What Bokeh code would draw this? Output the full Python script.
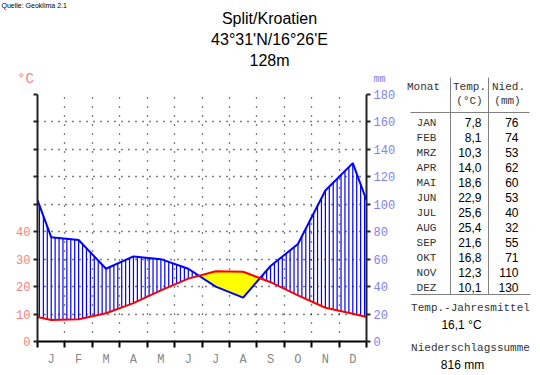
import numpy as np
from bokeh.plotting import figure
from bokeh.layouts import row, column
from bokeh.models import Range1d, LinearAxis, FixedTicker, Grid
from bokeh.core.properties import value
from bokeh.embed import file_html
from bokeh.resources import INLINE

# ---------------- data ----------------
source_note = "Quelle: Geoklima 2.1"
station = "Split/Kroatien"
coords = "43°31'N/16°26'E"
altitude = "128m"
months = ["JAN", "FEB", "MRZ", "APR", "MAI", "JUN", "JUL", "AUG", "SEP", "OKT", "NOV", "DEZ"]
month_letters = ["J", "F", "M", "A", "M", "J", "J", "A", "S", "O", "N", "D"]
temp = [7.8, 8.1, 10.3, 14.0, 18.6, 22.9, 25.6, 25.4, 21.6, 16.8, 12.3, 10.1]
precip = [76, 74, 53, 62, 60, 53, 40, 32, 55, 71, 110, 130]
temp_ticks = [0, 10, 20, 30, 40, 50, 60, 70, 80, 90]
temp_labelled = [0, 10, 20, 30, 40]
precip_ticks = [0, 20, 40, 60, 80, 100, 120, 140, 160, 180]
head_month = "Monat"
head_temp = ["Temp.", "(°C)"]
head_prec = ["Nied.", "(mm)"]
mean_title = "Temp.-Jahresmittel"
sum_title = "Niederschlagssumme"

# ---------------- styles ----------------
MONO = "Liberation Mono"
SANS = "Liberation Sans"
PINK = "#ff8080"
LBLUE = "#8080ff"
GRAYTXT = "#333333"
T_MAX, P_MAX = 90, 180

LEFT_W = 400
TOTAL_W, TOTAL_H = 540, 375
TITLE_H = 88
CHART_H = TOTAL_H - TITLE_H
FRAME_L, FRAME_R, FRAME_T, FRAME_B = 37, 366, 94, 341   # page pixels


def blank_fig(w, h, x0, x1, y_top, y_bot):
    f = figure(width=w, height=h, x_range=Range1d(x0, x1), y_range=Range1d(y_bot, y_top),
               output_backend="svg", toolbar_location=None,
               x_axis_type=None, y_axis_type=None, min_border=0)
    f.outline_line_color = None
    f.background_fill_color = "white"
    f.border_fill_color = "white"
    f.xgrid.visible = False
    f.ygrid.visible = False
    f.frame_align = False
    return f


def put(f, texts, xs, ys, font=SANS, size=12, color="black", align="center"):
    f.text(x=xs, y=ys, text=texts, text_font=value(font), text_font_size=value(f"{size}px"),
           text_color=color, text_align=align, text_baseline="middle")


# ---------------- title figure ----------------
tf = blank_fig(LEFT_W, TITLE_H, 0, LEFT_W, 0, TITLE_H)
put(tf, [source_note], [1], [5], size=7, align="left")
put(tf, [station, coords, altitude], [269, 269, 269], [18, 39, 60], size=16)
put(tf, ["°C"], [25], [78], font=MONO, size=14, color=PINK)
put(tf, ["mm"], [379], [79], font=MONO, size=10, color=LBLUE)

# ---------------- chart figure ----------------
p = figure(width=LEFT_W, height=CHART_H, x_range=Range1d(0, 12), y_range=Range1d(0, T_MAX),
           output_backend="svg", toolbar_location=None,
           x_axis_type=None, y_axis_type=None,
           min_border_left=FRAME_L, min_border_right=LEFT_W - FRAME_R,
           min_border_top=FRAME_T - TITLE_H, min_border_bottom=TOTAL_H - FRAME_B)
p.extra_y_ranges = {"mm": Range1d(0, P_MAX)}
p.outline_line_color = None
p.background_fill_color = "white"
p.border_fill_color = "white"
p.frame_align = False

p.add_layout(Grid(dimension=0, ticker=FixedTicker(ticks=list(range(1, 12))),
                  grid_line_color="black", grid_line_dash="1 8", grid_line_width=1.3))
p.add_layout(Grid(dimension=1, ticker=FixedTicker(ticks=temp_ticks[1:]),
                  grid_line_color="black", grid_line_dash="1 6", grid_line_width=1.3))

xaxis = LinearAxis(
    ticker=FixedTicker(ticks=[i + 0.5 for i in range(12)], minor_ticks=list(range(13))),
    major_label_overrides={i + 0.5: m for i, m in enumerate(month_letters)},
    major_tick_out=0, major_tick_in=0, minor_tick_out=6, minor_tick_in=0,
    minor_tick_line_color="black", minor_tick_line_width=2,
    axis_line_color="black", axis_line_width=2,
    major_label_text_font=MONO, major_label_text_font_size="12px",
    major_label_text_color="#888888", major_label_standoff=5)
p.add_layout(xaxis, "below")

yaxis = LinearAxis(
    ticker=FixedTicker(ticks=temp_ticks, minor_ticks=[]),
    major_label_overrides={t: (str(t) if t in temp_labelled else "") for t in temp_ticks},
    major_tick_out=4, major_tick_in=0, major_tick_line_width=2,
    major_tick_line_color="#222222",
    axis_line_color="#222222", axis_line_width=2,
    major_label_text_font=MONO, major_label_text_font_size="12px",
    major_label_text_color=PINK, major_label_standoff=3)
p.add_layout(yaxis, "left")

raxis = LinearAxis(
    y_range_name="mm",
    ticker=FixedTicker(ticks=precip_ticks, minor_ticks=[]),
    major_tick_out=4, major_tick_in=0, major_tick_line_width=2,
    major_tick_line_color="#222222",
    axis_line_color="#222222", axis_line_width=2,
    major_label_text_font=MONO, major_label_text_font_size="12px",
    major_label_text_color=LBLUE, major_label_standoff=3)
p.add_layout(raxis, "right")

ratio = T_MAX / P_MAX
xc = [i + 0.5 for i in range(12)]
xe = [0.0] + xc + [12.0]
t_edge = (temp[0] + temp[-1]) / 2
p_edge = (precip[0] + precip[-1]) / 2
te = [t_edge] + temp + [t_edge]
pe = [p_edge] + precip + [p_edge]
pe_t = [v * ratio for v in pe]

xs = np.linspace(0, 12, 2401)
Td = np.interp(xs, xe, te)
Pd = np.interp(xs, xe, pe_t)
p.varea(x=xs, y1=Pd, y2=np.maximum(Td, Pd), fill_color="#ffff00")

hx = np.arange(1 / 14, 12, 1 / 7)
Th = np.interp(hx, xe, te)
Ph = np.interp(hx, xe, pe_t)
m = Ph > Th
p.segment(x0=hx[m], y0=Th[m], x1=hx[m], y1=Ph[m], line_color="#0000ff", line_width=1.2)

p.line(xe, pe, y_range_name="mm", line_color="#0000ff", line_width=2)
p.line(xe, te, line_color="#ff0000", line_width=2)

# ---------------- table figure ----------------
tb = blank_fig(TOTAL_W - LEFT_W, TOTAL_H, LEFT_W, TOTAL_W, 0, TOTAL_H)
put(tb, [head_month, head_temp[0], head_prec[0]], [423, 469, 508], [86, 86, 86],
    font=MONO, size=11, color=GRAYTXT)
put(tb, [head_temp[1], head_prec[1]], [469, 507], [100, 100], font=MONO, size=11, color=GRAYTXT)
tb.segment(x0=[410, 450, 488, 410], y0=[112, 77, 77, 294],
           x1=[529, 450, 488, 530], y1=[112, 294, 294, 294],
           line_color="#808080", line_width=1)
row_y = [122 + 15 * i for i in range(len(months))]
put(tb, months, [426] * len(months), row_y, font=MONO, size=11, color=GRAYTXT)
put(tb, [f"{t:.1f}".replace(".", ",") for t in temp], [481] * len(temp), row_y, size=12, align="right")
put(tb, [str(v) for v in precip], [518] * len(precip), row_y, size=12, align="right")

mean_t = sum(temp) / len(temp)
put(tb, [mean_title, sum_title], [470, 470], [307, 347], font=MONO, size=11, color=GRAYTXT)
put(tb, [f"{mean_t:.1f}".replace(".", ",") + " °C", f"{sum(precip)} mm"], [461, 462], [324, 364], size=12)

layout = row(column(tf, p), tb)
open("out.html", "w").write(file_html(layout, INLINE))
